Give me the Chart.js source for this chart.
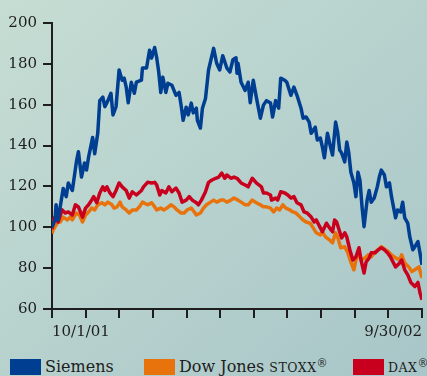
<!DOCTYPE html>
<html>
<head>
<meta charset="utf-8">
<script src="https://cdn.jsdelivr.net/npm/chart.js@4"></script>
<style>
  html, body {
    margin: 0;
    padding: 0;
  }
  body {
    width: 427px;
    height: 376px;
    overflow: hidden;
    position: relative;
    background: linear-gradient(to bottom right, #c6ddd3, #a8c6c8);
    font-family: "DejaVu Serif", serif;
    color: #1e1e1e;
  }
  #wrap {
    position: absolute;
    left: 0;
    top: 0;
    width: 427px;
    height: 350px;
  }
  .key {
    position: absolute;
    top: 359px;
    height: 16px;
    line-height: 16px;
    font-size: 16px;
    white-space: nowrap;
  }
  .sw {
    display: inline-block;
    width: 31px;
    height: 16px;
    vertical-align: top;
    margin-right: 4px;
  }
  .sc {
    font-size: 12.5px;
    letter-spacing: 0.5px;
  }
  sup {
    font-size: 11px;
    vertical-align: 5px;
    line-height: 0;
  }
</style>
</head>
<body>
<div id="wrap"><canvas id="myChart"></canvas></div>

<div class="key" style="left:10px"><span class="sw" style="background:#003e92"></span>Siemens</div>
<div class="key" style="left:144px"><span class="sw" style="background:#e8730c"></span>Dow Jones <span class="sc">STOXX</span><sup>®</sup></div>
<div class="key" style="left:353px"><span class="sw" style="background:#c8001e"></span><span class="sc">DAX</span><sup>®</sup></div>

<script>
// days since 10/1/01, values indexed to 100
const sieDays = [0, 3, 4, 6, 11, 14, 16, 20, 24, 26, 29, 32, 34, 36, 40, 42, 45, 47, 50, 52, 55, 58, 60, 63, 66, 69, 71, 73, 75, 78, 81, 83, 88, 89, 93, 96, 98, 101, 103, 105, 107, 109, 112, 114, 118, 122, 125, 127, 129, 132, 134, 137, 139, 142, 143, 146, 148, 151, 154, 159, 162, 165, 168, 172, 175, 178, 181, 182, 183, 186, 190, 193, 195, 198, 201, 205, 208, 211, 215, 217, 220, 223, 225, 229, 231, 235, 238, 241, 245, 247, 250, 253, 255, 259, 261, 264, 266, 268, 271, 274, 276, 279, 281, 283, 285, 288, 290, 292, 294, 297, 299, 301, 303, 305, 307, 310, 312, 314, 317, 320, 322, 324, 327, 329, 332, 334, 338, 340, 343, 345, 347, 350, 352, 355, 357, 360, 362, 364];
const sieVals = [100, 103.6, 111, 103.6, 119, 115, 121.7, 118, 132, 137, 124.6, 131.5, 128, 134.4, 144, 136, 146, 162, 163.7, 159, 162, 165.6, 155, 159, 177, 172, 173, 168.6, 161, 171, 165.6, 171, 172, 178, 178, 186.7, 182.8, 188, 183, 176, 166, 173.5, 166, 170.5, 169.5, 164.6, 166, 159.8, 152.4, 158.8, 155, 160.8, 156, 158.3, 152.4, 148.6, 158.3, 163, 177, 187.6, 180.3, 177, 184, 178, 176, 182, 183, 175.4, 180.3, 171, 167, 171, 161, 172, 163.7, 153.4, 159.8, 162, 160.8, 154, 162, 158.3, 173, 172, 171, 164.6, 168.6, 164.6, 158.3, 153.4, 154, 151.5, 146, 149, 142.7, 143.7, 139.3, 134, 146, 139.3, 135.4, 151.5, 146.6, 137.8, 136.3, 132, 141.7, 136.3, 127, 121.7, 115, 127, 123, 110, 100.3, 113.3, 118, 112.3, 114.3, 119.8, 124.6, 128, 125.6, 119.8, 121.7, 115, 104.6, 108.5, 107.5, 112.3, 104.6, 102, 95.3, 89, 90.5, 93, 87.5, 81.6];

const stoxxDays = [0, 1, 5, 8, 11, 15, 18, 20, 24, 27, 30, 33, 36, 39, 42, 45, 49, 52, 55, 59, 61, 64, 67, 69, 73, 76, 79, 83, 86, 89, 94, 98, 101, 103, 107, 110, 113, 117, 120, 123, 127, 130, 133, 137, 140, 142, 146, 149, 152, 156, 159, 162, 166, 169, 172, 176, 179, 183, 186, 190, 193, 197, 201, 205, 208, 211, 215, 218, 221, 224, 227, 230, 234, 237, 240, 244, 247, 250, 254, 257, 260, 264, 266, 269, 273, 276, 279, 281, 284, 288, 291, 294, 297, 299, 302, 304, 308, 311, 314, 318, 321, 324, 328, 331, 334, 338, 342, 344, 347, 351, 354, 357, 361, 364];
const stoxxVals = [97, 98.6, 102, 102.6, 105, 103.6, 105, 103.6, 107, 106, 102.6, 106, 107.5, 109.4, 108.5, 111, 112, 111, 112.3, 111, 109.4, 110, 112.3, 110, 108.5, 107, 108.5, 108.5, 110, 112.3, 111, 112, 110, 108.5, 109.4, 108.5, 109.4, 111, 110, 108.5, 107, 107, 108.5, 109.4, 107.5, 106, 107, 109.4, 111, 112.3, 113.3, 112.3, 113.3, 113.3, 112.3, 113.3, 114.3, 113.3, 112.3, 111, 111, 113.3, 112, 111, 110, 110, 109.4, 107.5, 109.4, 108.5, 111, 109.4, 108.5, 107.5, 107, 105, 103.6, 102.6, 102, 99.7, 97.3, 96.3, 97.8, 95.3, 93.8, 92.4, 97.3, 95.3, 90, 90.5, 87.5, 83, 79.2, 84, 87.5, 84, 85, 86.5, 85.5, 88, 89, 90.5, 89, 88, 86.5, 85, 84, 86.5, 82.5, 80.6, 78.3, 79.2, 80.6, 75.2];

const daxDays = [0, 1, 3, 6, 10, 13, 16, 20, 23, 26, 30, 33, 36, 39, 41, 44, 47, 50, 52, 54, 57, 60, 63, 66, 69, 73, 76, 79, 83, 88, 90, 94, 98, 101, 103, 106, 108, 112, 115, 118, 122, 125, 128, 132, 135, 138, 142, 144, 147, 151, 154, 157, 161, 164, 167, 170, 172, 176, 179, 182, 186, 190, 193, 197, 201, 206, 208, 211, 215, 216, 220, 222, 225, 229, 232, 235, 238, 241, 245, 248, 251, 255, 258, 260, 264, 266, 270, 273, 276, 278, 280, 283, 285, 288, 290, 293, 296, 299, 302, 304, 307, 309, 312, 314, 318, 321, 324, 327, 330, 333, 336, 338, 342, 344, 347, 350, 353, 357, 360, 362, 364];
const daxVals = [99, 103.6, 105, 102.6, 108.5, 107, 107.5, 106, 111, 110, 105, 109.4, 111, 113.3, 115, 112, 116.8, 119.8, 118, 119.8, 116.8, 115, 118, 121.7, 119.8, 118, 114.3, 117.4, 115.8, 118, 119.8, 122, 121.7, 122, 120.7, 115.8, 118, 116.8, 119.8, 117.4, 119.2, 116.8, 112.3, 113.3, 115, 113.3, 112, 111, 113.3, 117.4, 122, 123, 124, 124.6, 126.5, 124, 125.6, 124, 124.6, 124, 121.7, 120.7, 119.8, 124, 121.7, 119.8, 116.8, 116.8, 115.8, 113.3, 114.3, 113.3, 117.4, 116.8, 115.8, 114.3, 115, 112, 111, 107.5, 107, 105, 102.6, 103.6, 99.7, 97.8, 102, 99.7, 97.8, 103.6, 102.6, 97.8, 94.8, 97.3, 95.3, 89, 84, 85.5, 90, 84, 77.6, 83, 85, 87.5, 87.5, 89, 90, 89, 87.5, 85.5, 82.5, 80.6, 82.5, 84, 79.2, 76.7, 73, 71, 73, 68, 64.5];

// x axis: one tick per month, label only at both ends
const tickCount = 12;
const lastDay = 364;
const tickLabels = ["10/1/01", "9/30/02"];

const inkColor = "#1e1e1e";
const tickFont = { family: "DejaVu Serif", size: 15 };

function toPoints(days, vals) {
  return days.map((d, i) => ({ x: d, y: vals[i] }));
}

function lineSet(label, days, vals, color) {
  return {
    label: label,
    data: toPoints(days, vals),
    borderColor: color,
    borderWidth: 3.5,
    pointRadius: 0,
    tension: 0,
    borderJoinStyle: "round",
    fill: false,
  };
}

const ctx = document.getElementById("myChart");

new Chart(ctx, {
  type: "line",
  data: {
    datasets: [
      lineSet("Siemens", sieDays, sieVals, "#003e92"),
      lineSet("DAX", daxDays, daxVals, "#c8001e"),
      lineSet("Dow Jones STOXX", stoxxDays, stoxxVals, "#e8730c"),
    ],
  },
  options: {
    responsive: true,
    maintainAspectRatio: false,
    animation: false,
    layout: {
      padding: { top: 23, right: 2, left: 0, bottom: 0 },
    },
    plugins: {
      legend: { display: false },
      tooltip: { enabled: false },
    },
    scales: {
      x: {
        type: "linear",
        min: 0,
        max: lastDay,
        afterBuildTicks: (scale) => {
          const t = [];
          for (let i = 0; i < tickCount; i++) {
            t.push({ value: (i * lastDay) / (tickCount - 1) });
          }
          scale.ticks = t;
        },
        afterFit: (scale) => {
          scale.height = 41;
        },
        border: { display: true, color: inkColor, width: 2 },
        grid: {
          display: true,
          drawOnChartArea: false,
          drawTicks: true,
          tickLength: 9,
          color: inkColor,
          lineWidth: 2,
        },
        ticks: {
          autoSkip: false,
          maxRotation: 0,
          align: "inner",
          padding: 5,
          color: inkColor,
          font: tickFont,
          callback: (value, index, ticks) => {
            if (index === 0) return tickLabels[0];
            if (index === ticks.length - 1) return tickLabels[1];
            return "";
          },
        },
      },
      y: {
        min: 60,
        max: 200,
        afterFit: (scale) => {
          scale.width = 52;
        },
        border: { display: true, color: inkColor, width: 2 },
        grid: {
          display: true,
          drawOnChartArea: false,
          drawTicks: true,
          tickLength: 9,
          color: inkColor,
          lineWidth: 2,
        },
        ticks: {
          stepSize: 20,
          padding: 6,
          color: inkColor,
          font: tickFont,
        },
      },
    },
  },
});
</script>
</body>
</html>
